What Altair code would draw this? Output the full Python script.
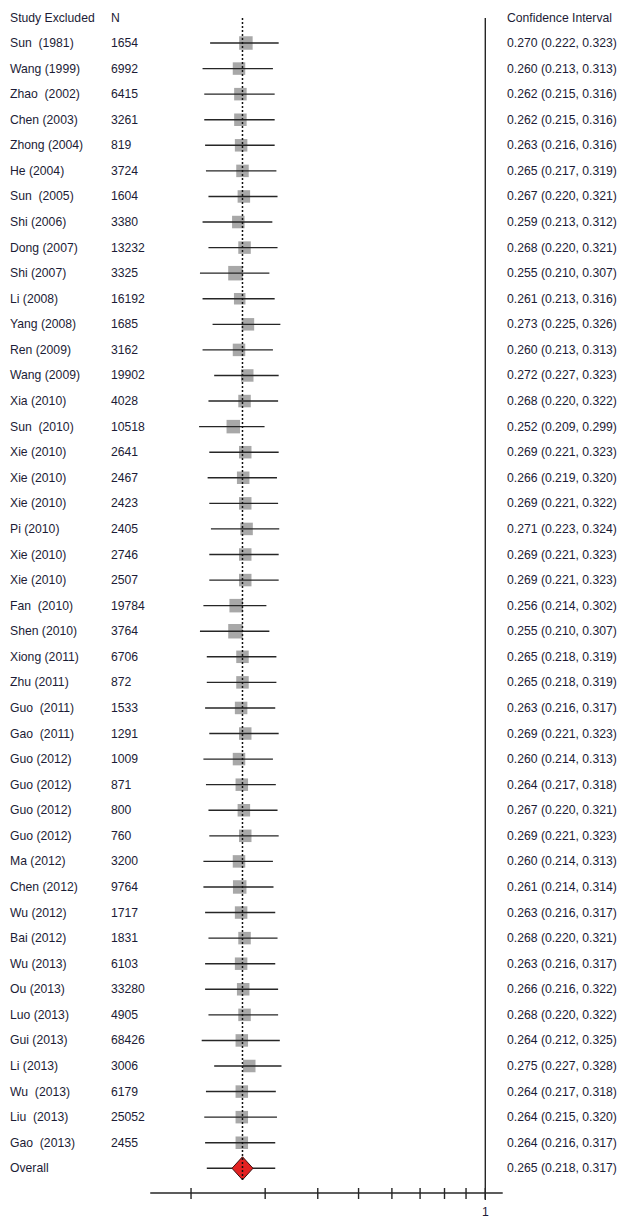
import altair as alt
import pandas as pd

# Leave-one-out sensitivity analysis: pooled estimate with each study excluded
studies = [
    "Sun\u00a0 (1981)", "Wang (1999)", "Zhao\u00a0 (2002)", "Chen (2003)", "Zhong (2004)",
    "He (2004)", "Sun\u00a0 (2005)", "Shi (2006)", "Dong (2007)", "Shi (2007)",
    "Li (2008)", "Yang (2008)", "Ren (2009)", "Wang (2009)", "Xia (2010)",
    "Sun\u00a0 (2010)", "Xie (2010)", "Xie (2010)", "Xie (2010)", "Pi (2010)",
    "Xie (2010)", "Xie (2010)", "Fan\u00a0 (2010)", "Shen (2010)", "Xiong (2011)",
    "Zhu (2011)", "Guo\u00a0 (2011)", "Gao\u00a0 (2011)", "Guo (2012)", "Guo (2012)",
    "Guo (2012)", "Guo (2012)", "Ma (2012)", "Chen (2012)", "Wu (2012)",
    "Bai (2012)", "Wu (2013)", "Ou (2013)", "Luo (2013)", "Gui (2013)",
    "Li (2013)", "Wu\u00a0 (2013)", "Liu\u00a0 (2013)", "Gao\u00a0 (2013)",
]
n_values = [
    1654, 6992, 6415, 3261, 819, 3724, 1604, 3380, 13232, 3325,
    16192, 1685, 3162, 19902, 4028, 10518, 2641, 2467, 2423, 2405,
    2746, 2507, 19784, 3764, 6706, 872, 1533, 1291, 1009, 871,
    800, 760, 3200, 9764, 1717, 1831, 6103, 33280, 4905, 68426,
    3006, 6179, 25052, 2455,
]
estimates = [
    0.270, 0.260, 0.262, 0.262, 0.263, 0.265, 0.267, 0.259, 0.268, 0.255,
    0.261, 0.273, 0.260, 0.272, 0.268, 0.252, 0.269, 0.266, 0.269, 0.271,
    0.269, 0.269, 0.256, 0.255, 0.265, 0.265, 0.263, 0.269, 0.260, 0.264,
    0.267, 0.269, 0.260, 0.261, 0.263, 0.268, 0.263, 0.266, 0.268, 0.264,
    0.275, 0.264, 0.264, 0.264,
]
lower = [
    0.222, 0.213, 0.215, 0.215, 0.216, 0.217, 0.220, 0.213, 0.220, 0.210,
    0.213, 0.225, 0.213, 0.227, 0.220, 0.209, 0.221, 0.219, 0.221, 0.223,
    0.221, 0.221, 0.214, 0.210, 0.218, 0.218, 0.216, 0.221, 0.214, 0.217,
    0.220, 0.221, 0.214, 0.214, 0.216, 0.220, 0.216, 0.216, 0.220, 0.212,
    0.227, 0.217, 0.215, 0.216,
]
upper = [
    0.323, 0.313, 0.316, 0.316, 0.316, 0.319, 0.321, 0.312, 0.321, 0.307,
    0.316, 0.326, 0.313, 0.323, 0.322, 0.299, 0.323, 0.320, 0.322, 0.324,
    0.323, 0.323, 0.302, 0.307, 0.319, 0.319, 0.317, 0.323, 0.313, 0.318,
    0.321, 0.323, 0.313, 0.314, 0.317, 0.321, 0.317, 0.322, 0.322, 0.325,
    0.328, 0.318, 0.320, 0.317,
]
# side length of each weight box
box_side = [
    13, 12, 12, 12, 12, 12, 12, 12, 12, 14,
    11, 12, 12, 12, 12, 13, 12, 12, 12, 12,
    12, 12, 13, 14, 12, 12, 12, 12, 12, 12,
    12, 12, 12, 13, 12, 12, 12, 12, 12, 12,
    12, 12, 12, 12,
]
overall_label = "Overall"
overall_est, overall_lo, overall_hi = 0.265, 0.218, 0.317
axis_ticks = [0.2, 0.3, 0.4, 0.5, 0.6, 0.7, 0.8, 0.9, 1.0]
axis_extent = [0.16, 1.1]
null_value = 1.0
header_labels = ["Study Excluded", "N", "Confidence Interval"]

FONT = "Liberation Sans"
FS = 12.2
TXT = "#1c1c36"
LINE = "#262626"
COL_X = [10, 111, 507]

df = pd.DataFrame({
    "study": studies,
    "n": [str(v) for v in n_values],
    "est": estimates,
    "lo": lower,
    "hi": upper,
    "size": [(s + 0.5) ** 2 for s in box_side],
})
df["row"] = range(len(df))
df["ci"] = [f"{e:.3f} ({l:.3f}, {h:.3f})" for e, l, h in zip(estimates, lower, upper)]

ov = pd.DataFrame({
    "study": [overall_label], "est": [overall_est], "lo": [overall_lo], "hi": [overall_hi],
    "row": [len(df)],
    "ci": [f"{overall_est:.3f} ({overall_lo:.3f}, {overall_hi:.3f})"],
})
frame = pd.DataFrame({"a": [axis_extent[0]], "b": [axis_extent[1]], "null": [null_value]})
tick_df = pd.DataFrame({"t": axis_ticks, "lab": ["" for _ in axis_ticks[:-1]] + ["1"]})

xs = alt.Scale(type="log", domain=[0.1, 1.0], range=[64.3, 485.3])
ys = alt.Scale(domain=[0, len(df)], range=[43, 1168.3])


def X(f):
    return alt.X(f, type="quantitative", scale=xs, axis=None)


def Y(f):
    return alt.Y(f, type="quantitative", scale=ys, axis=None)


boxes = alt.Chart(df).mark_square(color="#a3a3a3", opacity=0.95).encode(
    x=X("est"), y=Y("row"), size=alt.Size("size:Q", scale=None, legend=None)
)
cis = alt.Chart(df).mark_rule(color=LINE, strokeWidth=1.4).encode(
    x=X("lo"), x2="hi", y=Y("row")
)
ov_line = alt.Chart(ov).mark_rule(color=LINE, strokeWidth=1.4).encode(
    x=X("lo"), x2="hi", y=Y("row")
)
diamond = alt.Chart(ov).mark_point(
    shape="M -1 0 L 0 -1.1 L 1 0 L 0 1.1 Z", filled=True, fill="#e32222",
    stroke="#3a1010", strokeWidth=1, opacity=1, size=441,
).encode(x=X("est"), y=Y("row"))

ref_dash = alt.Chart(ov).mark_rule(color="#111111", strokeWidth=1.5, strokeDash=[2, 2]).encode(
    x=X("est"), y=alt.value(18), y2=alt.value(1180)
)
null_line = alt.Chart(frame).mark_rule(color=LINE, strokeWidth=1.4).encode(
    x=X("null"), y=alt.value(18), y2=alt.value(1200)
)
axis_line = alt.Chart(frame).mark_rule(color=LINE, strokeWidth=1.4).encode(
    x=X("a"), x2="b", y=alt.value(1193)
)
ticks = alt.Chart(tick_df).mark_rule(color=LINE, strokeWidth=1.4).encode(
    x=X("t"), y=alt.value(1188), y2=alt.value(1199)
)
tick_label = alt.Chart(tick_df).mark_text(
    font=FONT, fontSize=FS, color=TXT, baseline="middle", align="center"
).encode(x=X("t"), y=alt.value(1212), text="lab:N")


def col_text(data, field, xpix):
    return alt.Chart(data).mark_text(
        font=FONT, fontSize=FS, color=TXT, align="left", baseline="middle"
    ).encode(x=alt.value(xpix), y=Y("row"), text=f"{field}:N")


def header(i):
    return alt.Chart(pd.DataFrame({"lab": [header_labels[i]]})).mark_text(
        font=FONT, fontSize=FS, color=TXT, align="left", baseline="middle"
    ).encode(x=alt.value(COL_X[i]), y=alt.value(18), text="lab:N")


chart = alt.layer(
    boxes, cis, ov_line, diamond, ref_dash, null_line, axis_line, ticks, tick_label,
    col_text(df, "study", COL_X[0]), col_text(df, "n", COL_X[1]), col_text(df, "ci", COL_X[2]),
    col_text(ov, "study", COL_X[0]), col_text(ov, "ci", COL_X[2]),
    header(0), header(1), header(2),
).properties(
    width=620, height=1218, padding=0, autosize=alt.AutoSizeParams(type="none"),
    background="white",
).configure_view(stroke=None)

chart.save("out.html", embed_options={"renderer": "svg", "actions": False})
